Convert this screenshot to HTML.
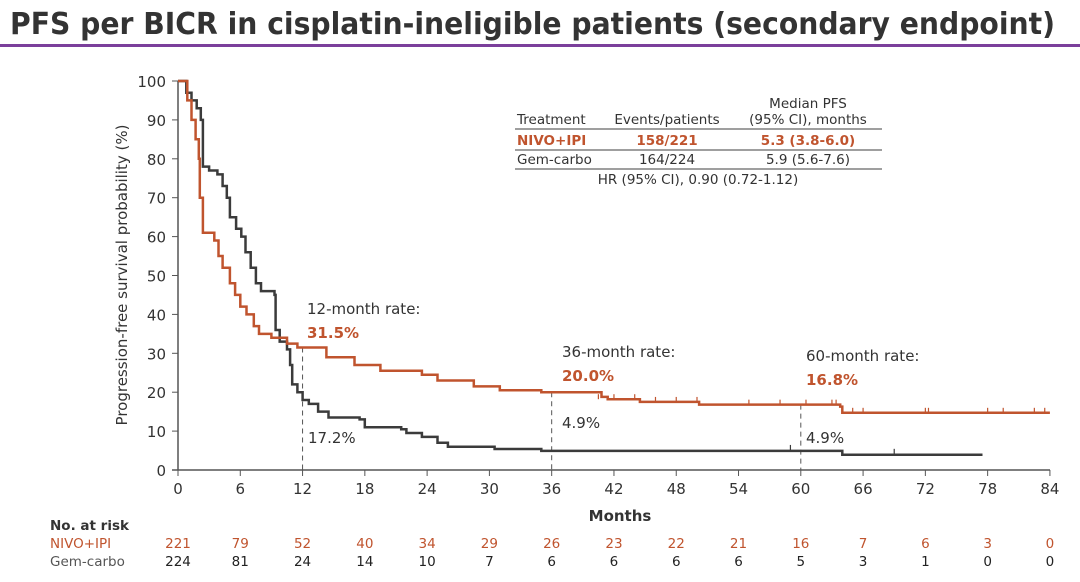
<!DOCTYPE html>
<html><head><meta charset="utf-8"><style>
html,body{margin:0;padding:0;background:#fff;}
svg{display:block;font-family:"DejaVu Sans","Liberation Sans",sans-serif;}
</style></head><body>
<svg id="s" width="1080" height="582" viewBox="0 0 1080 582" xmlns="http://www.w3.org/2000/svg">
<text x="10" y="34" font-size="30" font-weight="bold" fill="#333" textLength="1045" lengthAdjust="spacingAndGlyphs">PFS per BICR in cisplatin-ineligible patients (secondary endpoint)</text>
<rect x="0" y="44" width="1080" height="3" fill="#7b3f9b"/>
<g id="g"></g>
</svg>
<script>
const X=m=>178+m*10.38, Y=p=>470-p*3.89;
const g=document.getElementById('g');let h='';
h+=`<line x1="178" y1="81" x2="178" y2="470" stroke="#555" stroke-width="1.5"/><line x1="172" y1="470" x2="1050" y2="470" stroke="#555" stroke-width="1.5"/>`;
for(let p=0;p<=100;p+=10){h+=`<line x1="172" x2="178" y1="${Y(p)}" y2="${Y(p)}" stroke="#555"/><text x="166" y="${Y(p)+6}" font-size="15" fill="#333" text-anchor="end">${p}</text>`;}
for(let m=0;m<=84;m+=6){h+=`<line x1="${X(m)}" x2="${X(m)}" y1="470" y2="476" stroke="#555"/><text x="${X(m)}" y="494" font-size="15" fill="#333" text-anchor="middle">${m}</text>`;}
h+=`<text x="620" y="521" font-size="15" font-weight="bold" fill="#333" text-anchor="middle">Months</text>`;
h+=`<text transform="translate(127,275) rotate(-90)" font-size="15" fill="#333" text-anchor="middle">Progression-free survival probability (%)</text>`;
[[12,31.5],[36,20],[60,16.8]].forEach(([m,p])=>{h+=`<line x1="${X(m)}" x2="${X(m)}" y1="${Y(p)}" y2="470" stroke="#555" stroke-dasharray="5,4"/>`;});
function step(pts,col){let d=`M${X(pts[0][0])},${Y(pts[0][1])}`;for(let i=1;i<pts.length;i++){d+=`H${X(pts[i][0]).toFixed(1)}V${Y(pts[i][1]).toFixed(1)}`;}return `<path d="${d}" fill="none" stroke="${col}" stroke-width="2.5"/>`;}
const red=[[0,100],[0.9,95],[1.3,90],[1.7,85],[2.0,80],[2.1,70],[2.4,61],[3.5,59],[3.9,55],[4.3,52],[5.0,48],[5.5,45],[6.0,42],[6.6,40],[7.3,37],[7.8,35],[9,34],[10.5,32.5],[11.5,31.5],[14.3,29],[17,27],[19.5,25.5],[23.5,24.5],[25,23],[28.5,21.5],[31,20.5],[35,20],[40.8,18.8],[41.4,18.2],[44.5,17.5],[50.2,16.8],[63.8,16.3],[64,14.7],[84,14.7]];
const gray=[[0,100],[0.8,97],[1.3,95],[1.8,93],[2.2,90],[2.4,78],[3.0,77],[3.8,76],[4.3,73],[4.7,70],[5.0,65],[5.6,62],[6.1,60],[6.5,56],[7.0,52],[7.5,48],[8.0,46],[9.3,45],[9.4,36],[9.8,33],[10.5,31],[10.8,27],[11.0,22],[11.5,20],[12,18],[12.6,17],[13.5,15],[14.5,13.5],[17.5,13],[18,11],[21.5,10.5],[22,9.5],[23.5,8.5],[25,7],[26,6],[30.5,5.4],[35,4.9],[63.8,4.9],[64,3.9],[77.5,3.9]];
h+=step(gray,'#3b3b3b')+step(red,'#c0542e');
[40.5,42,44,46,48,50,55,58,60.5,63,63.4,65,66,72,72.3,78,79.5,82.5,83.5].forEach(m=>{const p=m<50.2?(m<44.5?18.2:17.5):(m<64?16.8:14.7);h+=`<line x1="${X(m)}" x2="${X(m)}" y1="${Y(p)-5}" y2="${Y(p)}" stroke="#c0542e" stroke-width="1.2"/>`;});
[59,69].forEach(m=>{const p=m<64?4.9:3.9;h+=`<line x1="${X(m)}" x2="${X(m)}" y1="${Y(p)-6}" y2="${Y(p)}" stroke="#3b3b3b" stroke-width="1.2"/>`;});
const ann=(x,y,t,c,b)=>`<text x="${x}" y="${y}" font-size="15" fill="${c}" ${b?'font-weight="bold"':''}>${t}</text>`;
h+=ann(307,314,'12-month rate:','#333')+ann(307,338,'31.5%','#c0542e',1)+ann(308,443,'17.2%','#333');
h+=ann(562,357,'36-month rate:','#333')+ann(562,381,'20.0%','#c0542e',1)+ann(562,428,'4.9%','#333');
h+=ann(806,361,'60-month rate:','#333')+ann(806,385,'16.8%','#c0542e',1)+ann(806,443,'4.9%','#333');
const fs=13.5;
h+=`<text x="808" y="108" font-size="${fs}" fill="#333" text-anchor="middle">Median PFS</text>`;
h+=`<text x="517" y="124" font-size="${fs}" fill="#333">Treatment</text><text x="667" y="124" font-size="${fs}" fill="#333" text-anchor="middle">Events/patients</text><text x="808" y="124" font-size="${fs}" fill="#333" text-anchor="middle">(95% CI), months</text>`;
h+=`<line x1="515" x2="882" y1="129" y2="129" stroke="#666" stroke-width="1.3"/>`;
h+=`<text x="517" y="145" font-size="${fs}" fill="#c0542e" font-weight="bold">NIVO+IPI</text><text x="667" y="145" font-size="${fs}" fill="#c0542e" font-weight="bold" text-anchor="middle">158/221</text><text x="808" y="145" font-size="${fs}" fill="#c0542e" font-weight="bold" text-anchor="middle">5.3 (3.8-6.0)</text>`;
h+=`<line x1="515" x2="882" y1="150" y2="150" stroke="#666" stroke-width="1.3"/>`;
h+=`<text x="517" y="164" font-size="${fs}" fill="#333">Gem-carbo</text><text x="667" y="164" font-size="${fs}" fill="#333" text-anchor="middle">164/224</text><text x="808" y="164" font-size="${fs}" fill="#333" text-anchor="middle">5.9 (5.6-7.6)</text>`;
h+=`<line x1="515" x2="882" y1="169" y2="169" stroke="#666" stroke-width="1.3"/>`;
h+=`<text x="698" y="184" font-size="${fs}" fill="#333" text-anchor="middle">HR (95% CI), 0.90 (0.72-1.12)</text>`;
h+=`<text x="50" y="530" font-size="13.5" font-weight="bold" fill="#333">No. at risk</text><text x="50" y="548" font-size="13.5" fill="#c0542e">NIVO+IPI</text><text x="50" y="566" font-size="13.5" fill="#555">Gem-carbo</text>`;
const r1=[221,79,52,40,34,29,26,23,22,21,16,7,6,3,0],r2=[224,81,24,14,10,7,6,6,6,6,5,3,1,0,0];
r1.forEach((v,i)=>{h+=`<text x="${X(i*6)}" y="548" font-size="13.5" fill="#c0542e" text-anchor="middle">${v}</text><text x="${X(i*6)}" y="566" font-size="13.5" fill="#222" text-anchor="middle">${r2[i]}</text>`;});
g.innerHTML=h;
</script>
</body></html>
